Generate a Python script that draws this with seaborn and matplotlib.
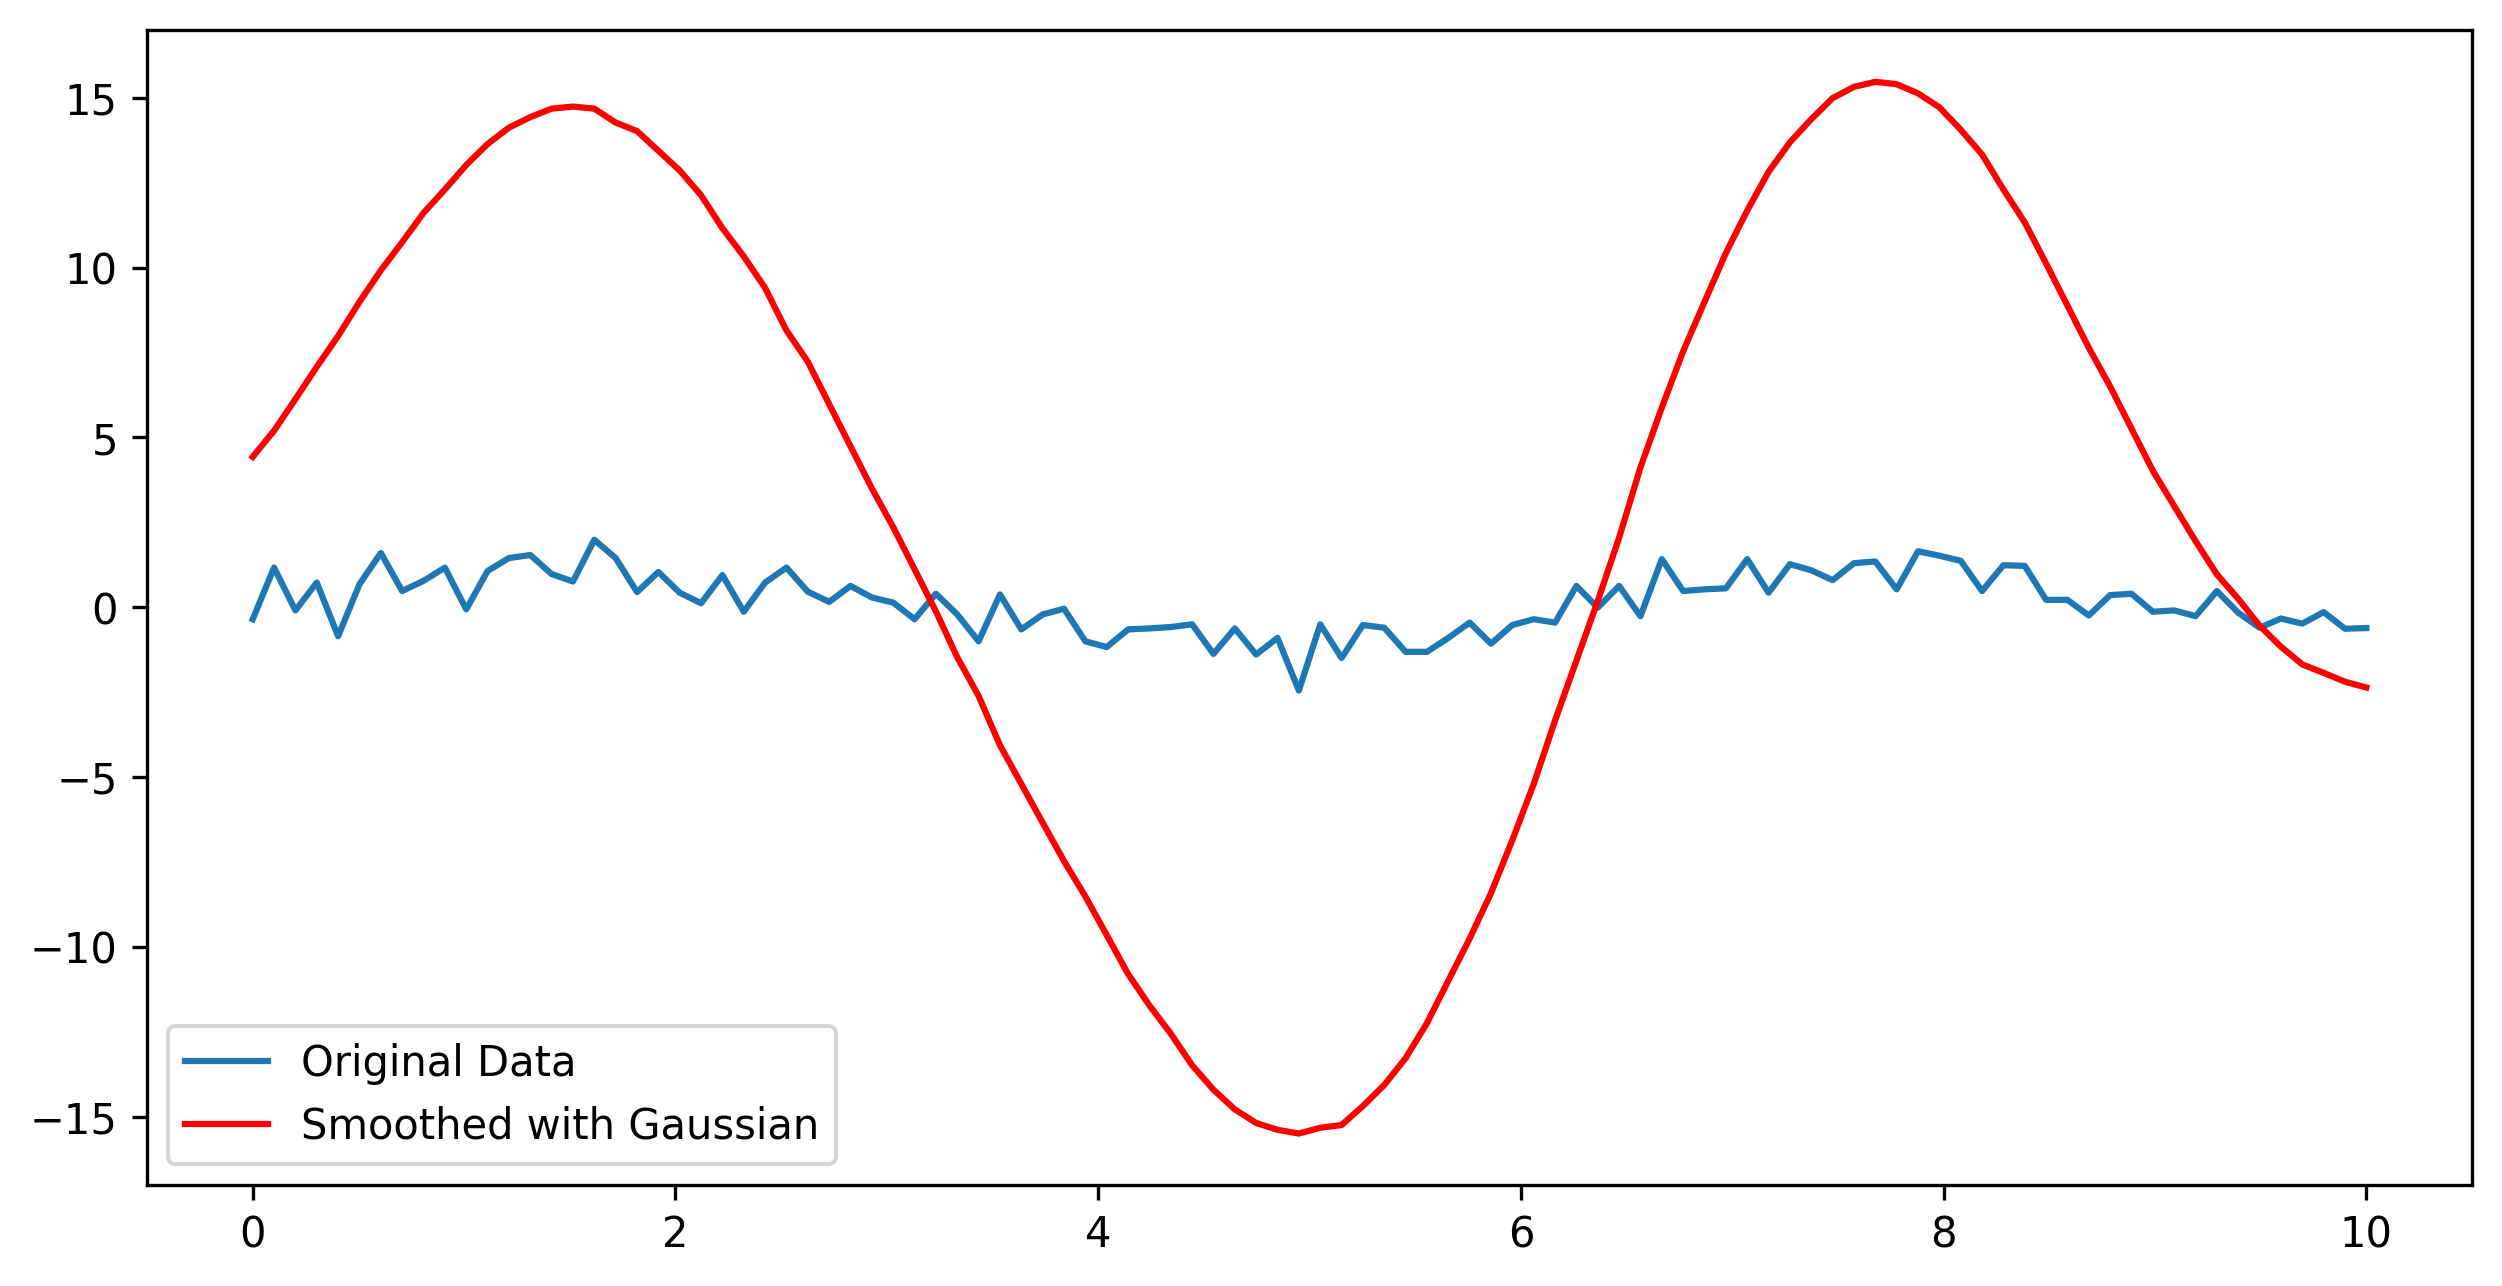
import numpy as np
import pandas as pd
import matplotlib
matplotlib.use('Agg')
import matplotlib.pyplot as plt
import seaborn as sns

#---------------------------------------------------------
f_out='out.png'

# x grid: 100 evenly spaced samples on [0, 10]
x_start, x_stop, n_pts = 0, 10, 100

original=[
	-0.35, 1.17, -0.09, 0.73, -0.85, 0.68, 1.60, 0.48, 0.78, 1.17,
	-0.06, 1.07, 1.45, 1.54, 0.98, 0.76, 1.99, 1.45, 0.45, 1.04,
	0.43, 0.12, 0.95, -0.13, 0.73, 1.17, 0.46, 0.16, 0.63, 0.29,
	0.14, -0.35, 0.40, -0.21, -1.00, 0.38, -0.65, -0.21, -0.04, -1.00,
	-1.17, -0.65, -0.62, -0.58, -0.50, -1.37, -0.62, -1.39, -0.90, -2.45,
	-0.50, -1.49, -0.52, -0.60, -1.31, -1.31, -0.90, -0.45, -1.07, -0.52,
	-0.35, -0.45, 0.63, -0.01, 0.63, -0.26, 1.42, 0.48, 0.53, 0.56,
	1.42, 0.43, 1.27, 1.09, 0.80, 1.30, 1.35, 0.53, 1.65, 1.52,
	1.37, 0.48, 1.24, 1.22, 0.22, 0.22, -0.24, 0.36, 0.40, -0.13,
	-0.09, -0.26, 0.48, -0.16, -0.60, -0.33, -0.48, -0.14, -0.63, -0.61,
]

smoothed=[
	4.43, 5.20, 6.13, 7.08, 7.99, 8.99, 9.92, 10.75, 11.61, 12.30,
	13.02, 13.64, 14.12, 14.43, 14.68, 14.74, 14.68, 14.27, 14.02, 13.44,
	12.86, 12.13, 11.16, 10.33, 9.40, 8.15, 7.23, 5.98, 4.74, 3.50,
	2.36, 1.12, -0.12, -1.47, -2.61, -4.06, -5.20, -6.34, -7.47, -8.51,
	-9.65, -10.79, -11.72, -12.55, -13.48, -14.20, -14.78, -15.18, -15.38, -15.49,
	-15.32, -15.24, -14.68, -14.06, -13.27, -12.24, -10.99, -9.75, -8.41, -6.85,
	-5.20, -3.33, -1.57, 0.19, 2.05, 4.12, 5.88, 7.54, 8.99, 10.43,
	11.68, 12.82, 13.69, 14.37, 14.99, 15.32, 15.47, 15.40, 15.13, 14.72,
	14.06, 13.33, 12.30, 11.33, 10.12, 8.88, 7.64, 6.50, 5.26, 4.02,
	2.98, 1.95, 0.97, 0.25, -0.54, -1.16, -1.68, -1.93, -2.19, -2.36,
]

#--------------------------------------------------------
df=pd.DataFrame({
	'x': np.linspace(x_start, x_stop, n_pts),
	'original': original,
	'smoothed': smoothed,
})

#plot
fig, ax=plt.subplots(figsize=(10,5))
sns.lineplot(x='x', y='original', data=df, ax=ax, color='#1f77b4', linewidth=1.5, label='Original Data')
sns.lineplot(x='x', y='smoothed', data=df, ax=ax, color='red', linewidth=1.5, label='Smoothed with Gaussian')

#adjust
ax.set_xlabel('')
ax.set_ylabel('')
ax.set_ylim(-17, 17)
ax.legend(loc='lower left')

#save
plt.savefig(f_out, dpi=300, bbox_inches='tight')
plt.close()
